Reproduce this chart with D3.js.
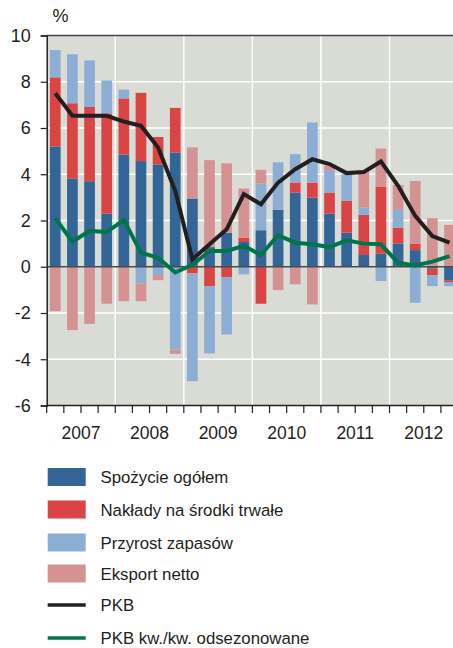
<!DOCTYPE html>
<html><head><meta charset="utf-8">
<script src="https://cdn.jsdelivr.net/npm/d3@7/dist/d3.min.js"></script>
<style>
body{margin:0;background:#fff;}
svg text{font-family:"Liberation Sans",Arial,sans-serif;fill:#231f20;}
</style></head>
<body><svg id="c" width="453" height="648"></svg>
<script>
const quarters = ["2007Q1","2007Q2","2007Q3","2007Q4","2008Q1","2008Q2","2008Q3","2008Q4",
 "2009Q1","2009Q2","2009Q3","2009Q4","2010Q1","2010Q2","2010Q3","2010Q4",
 "2011Q1","2011Q2","2011Q3","2011Q4","2012Q1","2012Q2","2012Q3","2012Q4"];
const years = ["2007","2008","2009","2010","2011","2012"];
const yTicks = [-6,-4,-2,0,2,4,6,8,10];
const spozycie = [5.20,3.81,3.70,2.30,4.85,4.57,4.42,4.94,2.95,0.85,1.47,1.07,1.58,2.46,3.21,2.99,2.30,1.47,0.51,0.56,1.00,0.72,-0.08,-0.58];
const naklady  = [2.99,3.26,3.21,4.33,2.43,2.95,1.19,1.93,-0.29,-0.84,-0.45,0.19,-1.60,0.00,0.43,0.65,0.91,1.38,1.73,2.91,0.69,0.28,-0.28,-0.08];
const zapasy   = [1.18,2.12,2.01,1.42,0.38,-0.72,-0.36,-3.58,-4.66,-2.91,-2.48,-0.33,2.02,2.06,1.23,2.60,0.94,1.15,0.32,-0.62,0.77,-1.56,-0.48,-0.18];
const eksport  = [-1.92,-2.74,-2.47,-1.60,-1.49,-0.77,-0.22,-0.19,2.21,3.76,3.00,2.12,0.59,-1.01,-0.76,-1.63,0.22,0.00,1.59,1.64,1.08,2.71,2.10,1.81];
const pkb      = [7.50,6.53,6.53,6.53,6.28,6.10,5.16,3.28,0.32,0.97,1.62,3.14,2.70,3.64,4.22,4.65,4.44,4.05,4.10,4.55,3.50,2.20,1.33,1.04];
const pkbQQ    = [2.10,1.08,1.55,1.50,2.02,0.61,0.39,-0.25,0.08,0.68,0.68,0.90,0.51,1.37,1.04,0.97,0.85,1.14,1.00,0.97,0.17,0.06,0.22,0.46];
const seriesNames = ["Spożycie ogółem","Nakłady na środki trwałe","Przyrost zapasów","Eksport netto"];
const lineNames = ["PKB","PKB kw./kw. odsezonowane"];
const colors = ["#346597","#d94544","#8daed4","#d49293"];
const lineColors = ["#231f20","#00744a"];

const svg = d3.select("#c");
const L = 46.7, R = 46.7 + 24*17.14, T = 35.5, B = 405.5;
const x = d3.scaleBand().domain(quarters).range([L,R]).paddingInner(0.375).paddingOuter(0.1875);
const y = d3.scaleLinear().domain([-6,10]).range([B,T]);

const rows = quarters.map((q,i)=>({q, s0:spozycie[i], s1:naklady[i], s2:zapasy[i], s3:eksport[i]}));
const stack = d3.stack().keys(["s0","s1","s2","s3"]).offset(d3.stackOffsetDiverging);
const stacked = stack(rows);

svg.append("defs").append("clipPath").attr("id","pc").append("rect").attr("x",L).attr("y",T).attr("width",R-L).attr("height",B-T);
const plot = svg.append("g").attr("clip-path","url(#pc)");
plot.append("rect").attr("x",L).attr("y",T).attr("width",R-L).attr("height",B-T).attr("fill","#d9dcd5");

plot.selectAll(".hg").data(yTicks.filter(v=>v!==0 && v!==-6 && v!==10)).enter().append("line")
 .attr("x1",L).attr("x2",R).attr("y1",d=>y(d)).attr("y2",d=>y(d)).attr("stroke","#fff").attr("stroke-width",1.5);
const step = x.step();
const qStart = q => x(q)-x.paddingInner()*step/2;
plot.selectAll(".vg").data(years.slice(1)).enter().append("line")
 .attr("x1",d=>qStart(d+"Q1")).attr("x2",d=>qStart(d+"Q1"))
 .attr("y1",T).attr("y2",B).attr("stroke","#fff").attr("stroke-width",1.5);

stacked.forEach((s,k)=>{
  plot.selectAll(".b"+k).data(s).enter().append("rect")
   .attr("x",d=>x(d.data.q)).attr("width",x.bandwidth())
   .attr("y",d=>y(Math.max(d[0],d[1]))).attr("height",d=>Math.abs(y(d[0])-y(d[1])))
   .attr("fill",colors[k]);
});

plot.append("line").attr("x1",L).attr("x2",R).attr("y1",y(0)).attr("y2",y(0)).attr("stroke","#4a4a4a").attr("stroke-width",1.3);

[pkb,pkbQQ].forEach((arr,k)=>{
  const line = d3.line().x((d,i)=>x(quarters[i])+x.bandwidth()/2).y(d=>y(d));
  plot.append("path").attr("d",line(arr)).attr("fill","none").attr("stroke",lineColors[k])
   .attr("stroke-width",4).attr("stroke-linejoin","miter");
});

svg.append("line").attr("x1",L).attr("x2",R).attr("y1",T).attr("y2",T).attr("stroke","#444").attr("stroke-width",1.5);
svg.append("line").attr("x1",L).attr("x2",R).attr("y1",B).attr("y2",B).attr("stroke","#231f20").attr("stroke-width",1.5);

const yAxis = d3.axisLeft(y).tickValues(yTicks).tickSize(6).tickPadding(10).tickFormat(d=>String(d));
const ga = svg.append("g").attr("transform",`translate(${L},0)`).call(yAxis);
ga.select(".domain").attr("stroke","#231f20").attr("stroke-width",1.5);
ga.selectAll(".tick line").attr("stroke","#231f20").attr("stroke-width",1.2);
ga.selectAll(".tick text").attr("font-size",18).attr("font-family",null).attr("fill","#231f20");

const bounds = quarters.map(qStart);
svg.selectAll(".xt").data(bounds).enter().append("line")
 .attr("x1",d=>d).attr("x2",d=>d).attr("y1",B).attr("y2",B+7.5).attr("stroke","#231f20").attr("stroke-width",1.2);
svg.selectAll(".yl").data(years).enter().append("text")
 .attr("x",d=>qStart(d+"Q1")+2*step).attr("y",438.5)
 .attr("text-anchor","middle").attr("font-size",17.5).text(d=>d);

svg.append("text").attr("x",60.5).attr("y",22).attr("text-anchor","middle").attr("font-size",18).text("%");

const leg = svg.append("g");
const rowY = [477,509.5,542.5,573.5,605,638];
seriesNames.forEach((n,i)=>{
  leg.append("rect").attr("x",47.7).attr("y",rowY[i]-9).attr("width",38).attr("height",18).attr("fill",colors[i]);
  leg.append("text").attr("x",100.5).attr("y",rowY[i]+6).attr("font-size",16.8).text(n);
});
lineNames.forEach((n,i)=>{
  const yy = rowY[4+i];
  leg.append("line").attr("x1",47.7).attr("x2",85.7).attr("y1",yy).attr("y2",yy).attr("stroke",lineColors[i]).attr("stroke-width",3.5);
  leg.append("text").attr("x",100.5).attr("y",yy+6).attr("font-size",16.8).text(n);
});
</script></body></html>
